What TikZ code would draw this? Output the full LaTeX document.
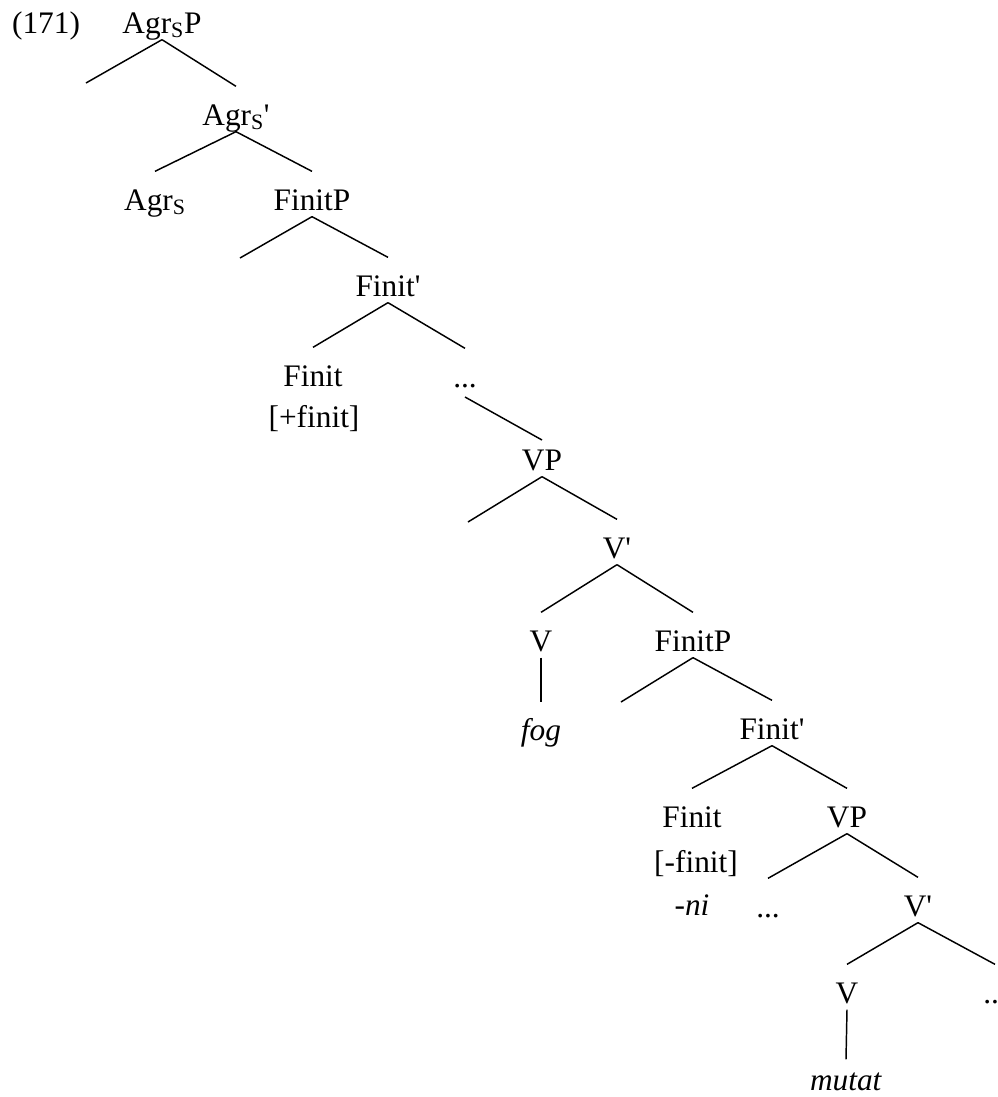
\documentclass[tikz,border=0pt]{standalone}
\usepackage{fontspec}
\setmainfont{Liberation Serif}
\newcommand{\barmark}{\textquotesingle}
\newcommand{\agr}{Agr\textsubscript{S}}

\begin{document}
\begin{tikzpicture}[x=0.75pt,y=-0.75pt,
  lbl/.style={anchor=base,inner sep=0pt,font=\fontsize{23.5}{28}\selectfont},
  branch/.style={line width=1.1pt}]
  \useasboundingbox (0,0) rectangle (997,1097);
  \clip (0,0) rectangle (997,1097);

  % upper part: AgrSP down to the first VP
  \node[lbl] (ex)       at (46,33)   {(171)};
  \node[lbl] (agrsp)    at (162,33)  {\agr P};
  \node[lbl] (agrsbar)  at (236,125) {\agr\barmark};
  \node[lbl] (agrs)     at (155,210) {\agr};
  \node[lbl] (finitp)   at (312,210) {FinitP};
  \node[lbl] (finitbar) at (388,296) {Finit\barmark};
  \node[lbl] (finit)    at (313,386) {Finit};
  \node[lbl] (plusfin)  at (314,427) {[+finit]};
  \node[lbl] (dots)     at (465,387) {...};
  \node[lbl] (vp)       at (542,470) {VP};
  \node[lbl] (vbar)     at (617,558) {V\barmark};
  \node[lbl] (v)        at (541,651) {V};
  \node[lbl] (fog)      at (541,740) {\textit{fog}};

  % embedded FinitP
  \node[lbl] (finitp2)   at (693,651)  {FinitP};
  \node[lbl] (finitbar2) at (772,739)  {Finit\barmark};
  \node[lbl] (finit2)    at (692,827)  {Finit};
  \node[lbl] (minusfin)  at (696,872)  {[-finit]};
  \node[lbl] (ni)        at (692,915)  {-\textit{ni}};
  \node[lbl] (vp2)       at (847,827)  {VP};
  \node[lbl] (dots2)     at (768,917)  {...};
  \node[lbl] (vbar2)     at (918,916)  {V\barmark};
  \node[lbl] (v2)        at (847,1003) {V};
  \node[lbl] (dots3)     at (995,1003) {...};
  \node[lbl] (mutat)     at (846,1090) {\textit{mutat}};

  % empty specifier branches
  \coordinate (spec1) at (86,83);
  \coordinate (spec2) at (240,258);
  \coordinate (spec3) at (468,522);
  \coordinate (spec4) at (621,702);

  \foreach \p/\c in {agrsp/spec1,finitp/spec2,vp/spec3,finitp2/spec4}
    \draw[branch] ([yshift=-5pt]\p.base) -- (\c);

  \foreach \p/\c in {agrsp/agrsbar,agrsbar/agrs,agrsbar/finitp,
                     finitp/finitbar,finitbar/finit,finitbar/dots,
                     vp/vbar,vbar/v,vbar/finitp2,
                     finitp2/finitbar2,finitbar2/finit2,finitbar2/vp2,
                     vp2/dots2,vp2/vbar2,vbar2/v2,vbar2/dots3}
    \draw[branch] ([yshift=-5pt]\p.base) -- ([yshift=29pt]\c.base);

  \draw[branch] ([yshift=-7.5pt]dots.base) -- ([yshift=22.5pt]vp.base);
  \draw[branch] ([yshift=-5pt]v.base) -- ([yshift=28.5pt]fog.base);
  \draw[branch] ([yshift=-5pt]v2.base) -- ([yshift=23pt]mutat.base);
\end{tikzpicture}
\end{document}
